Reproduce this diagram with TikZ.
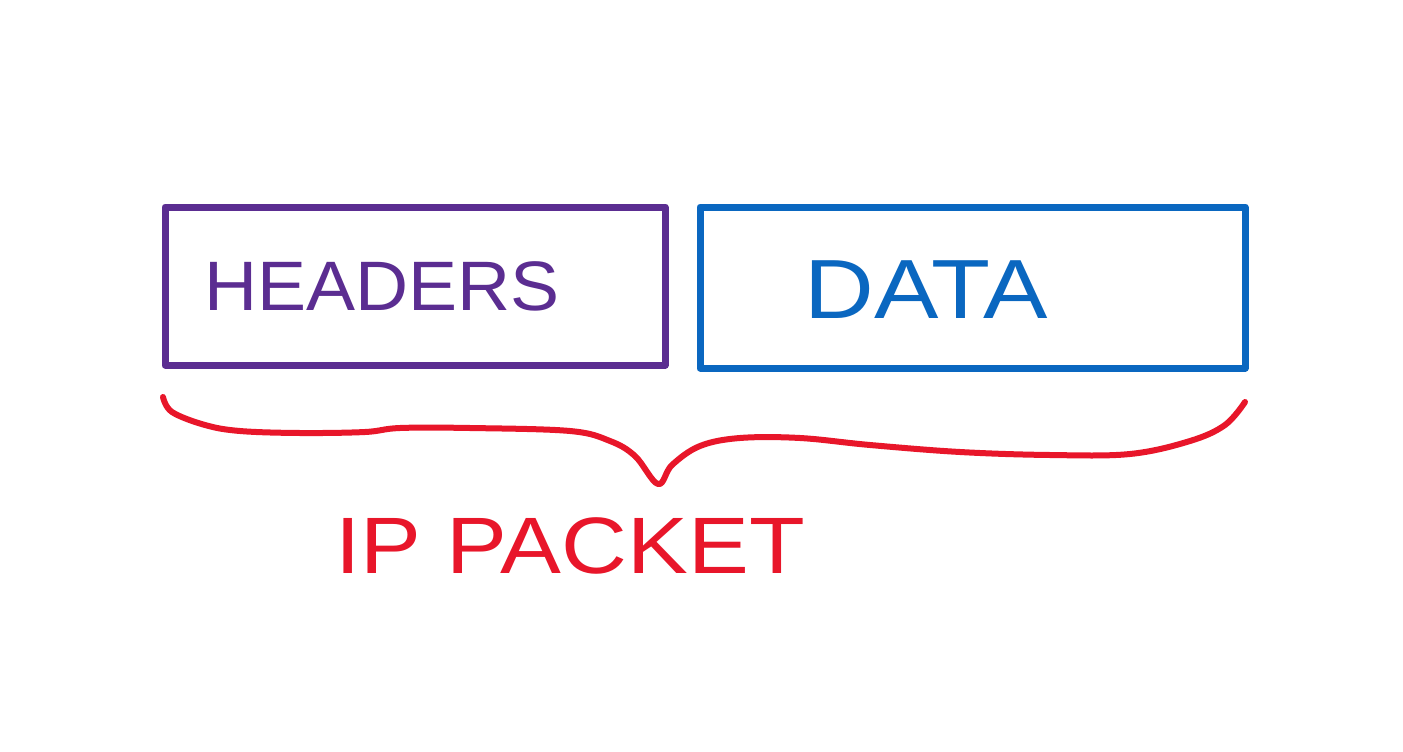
\documentclass[tikz,border=0pt]{standalone}
\usepackage{fontspec}
\setmainfont{Liberation Sans}
\definecolor{hpurple}{HTML}{5B2D91}
\definecolor{dblue}{HTML}{0A67C0}
\definecolor{pred}{HTML}{E8162A}
\begin{document}
\begin{tikzpicture}[x=1pt,y=-1pt,
  boxstyle/.style={draw,line width=7pt,line join=round,inner sep=0pt},
  labelstyle/.style={inner sep=0pt,font=\fontsize{70}{80}\selectfont}]
\useasboundingbox (0,0) rectangle (1403,752);
\fill[white] (0,0) rectangle (1403,752);
\node[boxstyle,draw=hpurple,minimum width=500pt,minimum height=158pt] (hdr) at (415,286) {};
\node[boxstyle,draw=dblue,minimum width=545pt,minimum height=161pt] (dat) at (972.5,287.5) {};
\node[labelstyle,text=hpurple,xscale=1.05] (hdrtxt) at (382,286) {HEADERS};
\node[labelstyle,text=dblue,font=\fontsize{84}{90}\selectfont,xscale=1.15] (dattxt) at (926,290) {DATA};
\node[labelstyle,text=pred,font=\fontsize{80}{90}\selectfont,xscale=1.14] (iptxt) at (570,546) {IP PACKET};
\draw[pred,line width=6pt,line cap=round,line join=round] plot[smooth,tension=0.6] coordinates {
 (163,397) (172,412) (205,425) (240,431) (300,433) (365,432) (400,428) (470,428)
 (570,431) (610,441) (635,456) (658,484) (672,465) (700,446) (740,438) (800,438)
 (870,445) (960,452) (1050,455) (1130,454) (1190,441) (1225,425) (1245,402)};
\end{tikzpicture}
\end{document}
